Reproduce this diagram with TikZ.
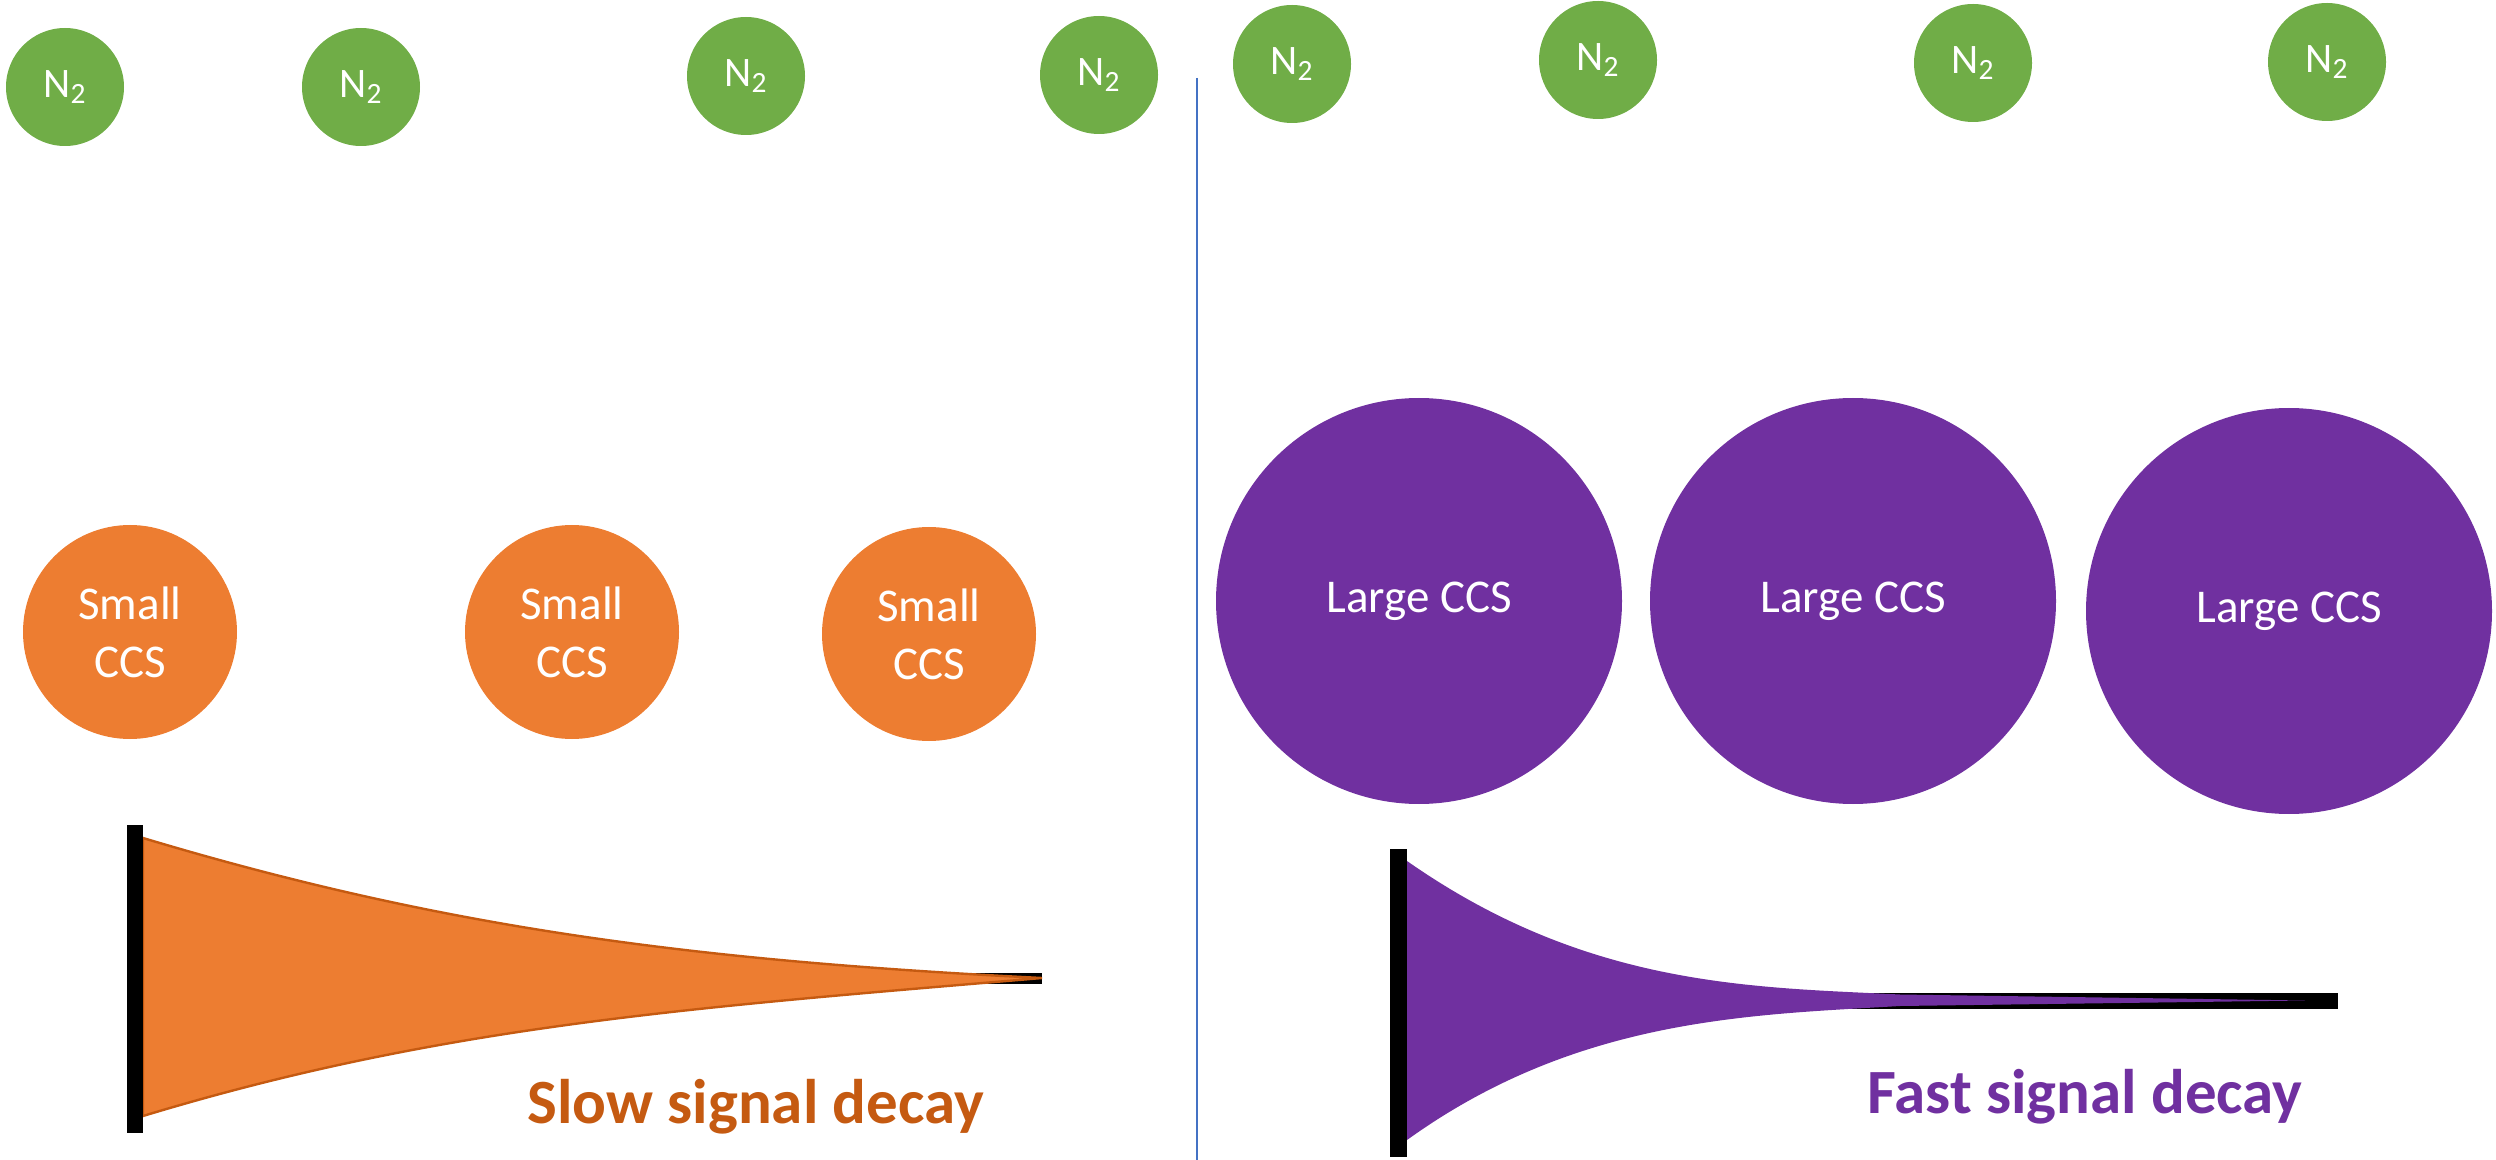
\documentclass[tikz,border=0pt]{standalone}
\usepackage{fontspec}
\setmainfont{Carlito}
\definecolor{ngreen}{HTML}{70AD47}
\definecolor{corange}{HTML}{ED7D31}
\definecolor{dorange}{HTML}{C55A11}
\definecolor{cpurple}{HTML}{7030A0}
\definecolor{lblue}{HTML}{4472C4}
\tikzset{
  n2/.style={circle, fill=ngreen, minimum size=59pt, inner sep=0pt, text=white, font=\fontsize{21}{25}\selectfont},
  smallccs/.style={circle, fill=corange, minimum size=107pt, inner sep=0pt, text=white, align=center, font=\fontsize{23.5}{29}\selectfont},
  largeccs/.style={circle, fill=cpurple, minimum size=203pt, inner sep=0pt, text=white, font=\fontsize{23.5}{29}\selectfont},
  decaylabel/.style={anchor=base west, inner sep=0pt, font=\fontsize{31.5}{38}\selectfont\bfseries},
  axisbar/.style={draw=black},
}
\begin{document}
\begin{tikzpicture}[x=0.5pt, y=-0.5pt]
\useasboundingbox (0,0) rectangle (2496,1160);
% divider
\coordinate (dtop) at (1197,78);
\coordinate (dbot) at (1197,1160);
\draw[lblue, line width=1pt] (dtop) -- (dbot);
% N2 molecules
\node[n2] (na) at (65,87) {N\textsubscript{2}};
\node[n2] (nb) at (361,87) {N\textsubscript{2}};
\node[n2] (nc) at (746,76) {N\textsubscript{2}};
\node[n2] (nd) at (1099,75) {N\textsubscript{2}};
\node[n2] (ne) at (1292,64) {N\textsubscript{2}};
\node[n2] (nf) at (1598,60) {N\textsubscript{2}};
\node[n2] (ng) at (1973,63) {N\textsubscript{2}};
\node[n2] (nh) at (2327,62) {N\textsubscript{2}};
% small CCS
\node[smallccs] (sa) at (130,632) {Small\\CCS};
\node[smallccs] (sb) at (572,632) {Small\\CCS};
\node[smallccs] (sc) at (929,634) {Small\\CCS};
% large CCS
\node[largeccs] (la) at (1419,601) {Large CCS};
\node[largeccs] (lb) at (1853,601) {Large CCS};
\node[largeccs] (lc) at (2289,611) {Large CCS};
% slow decay
\draw[axisbar, line width=5.5pt] (143,978) -- (1042,978);
\filldraw[fill=corange, draw=dorange, line width=1.2pt]
  (143,838) .. controls (443,928) and (692,960.5) .. (1042,978)
  .. controls (692,1007.75) and (443,1025) .. (143,1116) -- cycle;
\draw[axisbar, line width=8pt] (135,825) -- (135,1133);
\node[decaylabel, text=dorange] (slow) at (527,1123) {Slow signal decay};
% fast decay
\draw[axisbar, line width=8pt] (1407,1001) -- (2338,1001);
\fill[cpurple]
  (1407,861) .. controls (1587,987) and (1750,987) .. (1900,994.5)
  -- (2305,1000.5) -- (1900,1006)
  .. controls (1750,1015) and (1577,1017.6) .. (1407,1140) -- cycle;
\draw[axisbar, line width=8.5pt] (1398.5,849) -- (1398.5,1157);
\node[decaylabel, text=cpurple] (fast) at (1867,1113) {Fast signal decay};
\end{tikzpicture}
\end{document}
